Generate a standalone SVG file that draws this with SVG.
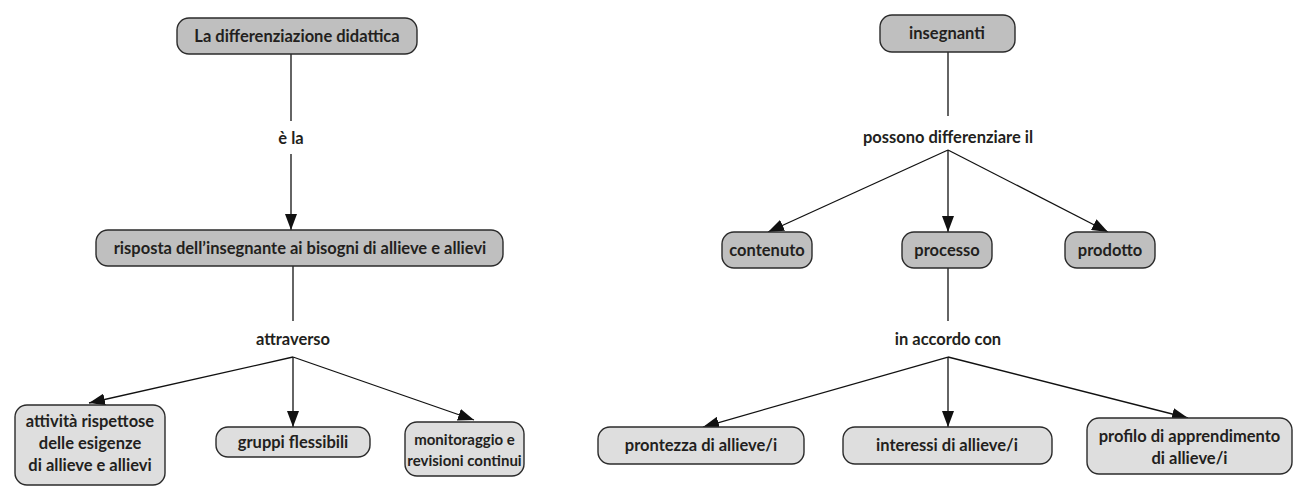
<svg xmlns="http://www.w3.org/2000/svg" width="1300" height="486" viewBox="0 0 1300 486">
<defs>
<marker id="ah" viewBox="0 0 16 12" refX="16" refY="6" markerWidth="16" markerHeight="12" markerUnits="userSpaceOnUse" orient="auto">
<path d="M0,0 L16,6 L0,12 Z" fill="#111"/>
</marker>
<style>
.n1 rect{fill:#bfbfbf;stroke:#2b2b2b;stroke-width:1.4}
.n2 rect{fill:#dedede;stroke:#2b2b2b;stroke-width:1.4}
text{font-family:Lato,"Open Sans","Liberation Sans",sans-serif;font-weight:700;font-size:16.5px;fill:#231f20;text-anchor:middle}
.c line{stroke:#111;stroke-width:1.3;fill:none}
.sm{font-size:15px}
</style>
</defs>
<rect width="1300" height="486" fill="#fff"/>
<g class="c" id="connectors">
<line x1="291" y1="54" x2="291" y2="121"/>
<line x1="291" y1="154" x2="291" y2="230" marker-end="url(#ah)"/>
<line x1="293" y1="266" x2="293" y2="321"/>
<line x1="293" y1="357" x2="89" y2="403" marker-end="url(#ah)"/>
<line x1="293" y1="357" x2="293" y2="427" marker-end="url(#ah)"/>
<line x1="293" y1="357" x2="474" y2="420" marker-end="url(#ah)"/>
<line x1="948" y1="52" x2="948" y2="116"/>
<line x1="948" y1="150" x2="768" y2="232" marker-end="url(#ah)"/>
<line x1="948" y1="150" x2="948" y2="232" marker-end="url(#ah)"/>
<line x1="948" y1="150" x2="1108" y2="232" marker-end="url(#ah)"/>
<line x1="948" y1="268" x2="948" y2="321"/>
<line x1="948" y1="357" x2="703" y2="427" marker-end="url(#ah)"/>
<line x1="948" y1="357" x2="948" y2="427" marker-end="url(#ah)"/>
<line x1="948" y1="357" x2="1188" y2="418" marker-end="url(#ah)"/>
</g>
<g id="labels">
<text x="291" y="144">è la</text>
<text x="293" y="345">attraverso</text>
<text x="948" y="143">possono differenziare il</text>
<text x="948" y="345">in accordo con</text>
</g>
<g id="n-differenziazione" class="n1"><rect x="177" y="18" width="240" height="36" rx="12"/><text x="297" y="42">La differenziazione didattica</text></g>
<g id="n-risposta" class="n1"><rect x="96" y="230" width="407" height="36" rx="12"/><text x="300" y="254">risposta dell’insegnante ai bisogni di allieve e allievi</text></g>
<g id="n-attivita" class="n2"><rect x="15" y="405" width="150" height="80" rx="12"/><text x="90" y="427">attività rispettose</text><text x="90" y="449">delle esigenze</text><text x="90" y="471">di allieve e allievi</text></g>
<g id="n-gruppi" class="n2"><rect x="216" y="427" width="154" height="30" rx="12"/><text x="293" y="448">gruppi flessibili</text></g>
<g id="n-monitoraggio" class="n2"><rect x="405" y="422" width="119" height="54" rx="12"/><text x="464.5" y="445" class="sm">monitoraggio e</text><text x="464.5" y="466" class="sm">revisioni continui</text></g>
<g id="n-insegnanti" class="n1"><rect x="880" y="15" width="135" height="37" rx="12"/><text x="947" y="39">insegnanti</text></g>
<g id="n-contenuto" class="n1"><rect x="722" y="232" width="90" height="36" rx="12"/><text x="767" y="256">contenuto</text></g>
<g id="n-processo" class="n1"><rect x="902" y="232" width="90" height="36" rx="12"/><text x="947" y="256">processo</text></g>
<g id="n-prodotto" class="n1"><rect x="1065" y="232" width="90" height="36" rx="12"/><text x="1110" y="256">prodotto</text></g>
<g id="n-prontezza" class="n2"><rect x="598" y="427" width="206" height="37" rx="12"/><text x="701" y="451">prontezza di allieve/i</text></g>
<g id="n-interessi" class="n2"><rect x="843" y="427" width="209" height="37" rx="12"/><text x="947" y="451">interessi di allieve/i</text></g>
<g id="n-profilo" class="n2"><rect x="1087" y="418" width="205" height="56" rx="12"/><text x="1189.5" y="442">profilo di apprendimento</text><text x="1189.5" y="464">di allieve/i</text></g>
</svg>
